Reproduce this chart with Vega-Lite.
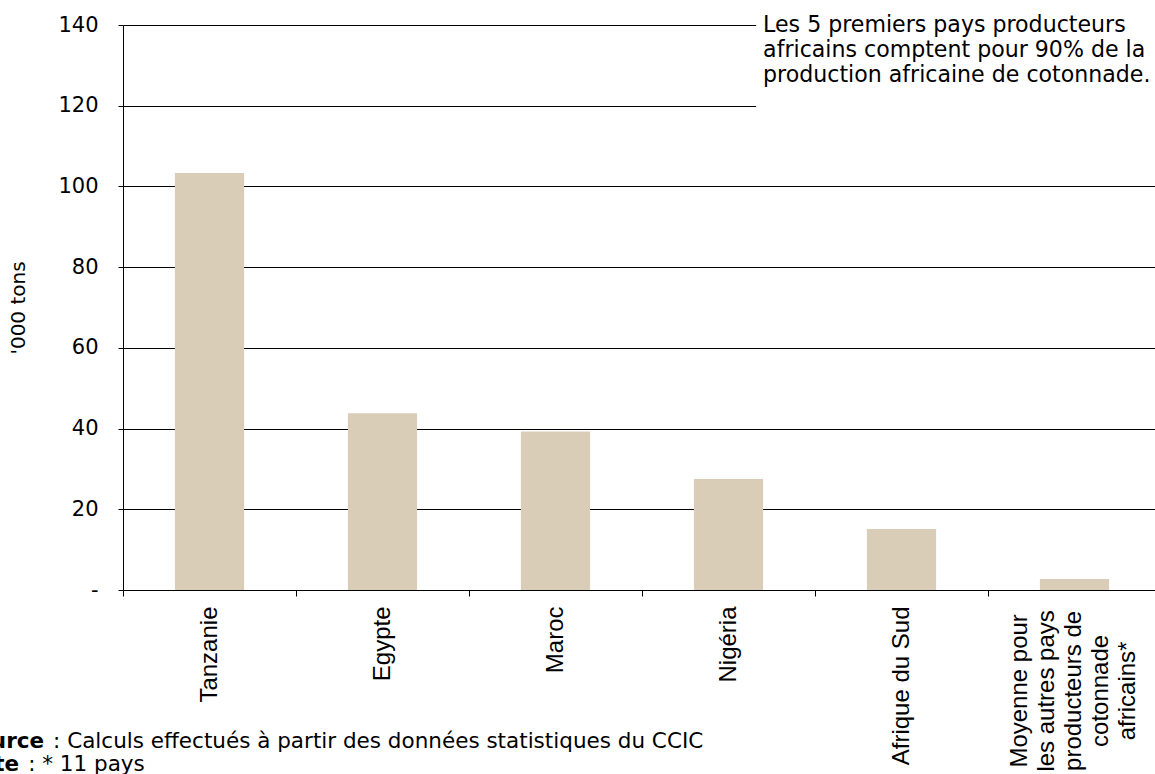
{
  "$schema": "https://vega.github.io/schema/vega-lite/v6.json",
  "width": 1032,
  "height": 565,
  "autosize": {"type": "none"},
  "padding": {"left": 123, "top": 25, "right": 0, "bottom": 184},
  "background": "white",
  "config": {"view": {"stroke": null}, "font": "DejaVu Sans"},
  "layer": [
    {
      "data": {
        "values": [
          {"pays": "Tanzanie", "valeur": 103.3},
          {"pays": "Egypte", "valeur": 43.8},
          {"pays": "Maroc", "valeur": 39.3},
          {"pays": "Nigéria", "valeur": 27.5},
          {"pays": "Afrique du Sud", "valeur": 15.1},
          {"pays": "Moyenne", "valeur": 2.7}
        ]
      },
      "mark": {"type": "bar", "color": "#d9cdb8"},
      "encoding": {
        "x": {
          "field": "pays", "type": "nominal",
          "scale": {"domain": ["Tanzanie", "Egypte", "Maroc", "Nigéria", "Afrique du Sud", "Moyenne"], "range": [0, 1038], "paddingInner": 0.6, "paddingOuter": 0.3},
          "axis": {
            "title": null, "labelAngle": -90, "labelFontSize": 24, "labelFont": "Liberation Sans", "labelColor": "black",
            "tickOffset": -86.5, "labelOffset": 86.5, "tickSize": 6, "tickColor": "black", "domainColor": "black",
            "labelPadding": 10, "grid": false, "labelLimit": 300,
            "labelExpr": "datum.value == 'Moyenne' ? '' : datum.value"
          }
        },
        "y": {
          "field": "valeur", "type": "quantitative",
          "scale": {"domain": [0, 140], "nice": false},
          "axis": {
            "title": "'000 tons", "values": [0, 20, 40, 60, 80, 100, 120, 140],
            "labelExpr": "datum.value == 0 ? '-' : datum.label",
            "labelFontSize": 21, "labelColor": "black", "labelPadding": 20,
            "titleFontSize": 20, "titleFontWeight": "normal", "titleColor": "black", "titlePadding": 29,
            "grid": true, "gridColor": "black", "gridOpacity": 1, "gridWidth": 1,
            "tickColor": "black", "tickSize": 5, "domainColor": "black"
          }
        }
      }
    },
    {
      "data": {"values": [{"de": "Nigéria", "a": "Moyenne", "haut": 143, "bas": 118.5}]},
      "mark": {"type": "rect", "color": "white"},
      "encoding": {
        "x": {"field": "de", "type": "nominal", "bandPosition": 0.9},
        "x2": {"field": "a", "bandPosition": 2.5},
        "y": {"field": "haut", "type": "quantitative"},
        "y2": {"field": "bas"}
      }
    },
    {
      "data": {"values": [{"pays": "Nigéria", "y": 138.25, "texte": "Les 5 premiers pays producteurs\nafricains comptent pour 90% de la\nproduction africaine de cotonnade."}]},
      "mark": {"type": "text", "align": "left", "baseline": "alphabetic", "fontSize": 22.1, "lineHeight": 25, "lineBreak": "\n", "color": "black"},
      "encoding": {
        "x": {"field": "pays", "type": "nominal", "bandPosition": 1.0},
        "y": {"field": "y", "type": "quantitative"},
        "text": {"field": "texte"}
      }
    },
    {
      "data": {"values": [{"pays": "Moyenne", "y": -25.0, "texte": "Moyenne pour\nles autres pays\nproducteurs de\ncotonnade\nafricains*"}]},
      "mark": {"type": "text", "align": "center", "baseline": "middle", "angle": 270, "font": "Liberation Sans", "fontSize": 24, "lineHeight": 27, "lineBreak": "\n", "color": "black"},
      "encoding": {
        "x": {"field": "pays", "type": "nominal", "bandPosition": -0.29},
        "y": {"field": "y", "type": "quantitative"},
        "text": {"field": "texte"}
      }
    },
    {
      "data": {"values": [{"pays": "Tanzanie", "y": -37.7, "gras": "Source", "texte": ": Calculs effectués à partir des données statistiques du CCIC"}]},
      "layer": [
        {
          "mark": {"type": "text", "align": "right", "baseline": "middle", "fontSize": 21.5, "fontWeight": "bold", "color": "black"},
          "encoding": {
            "x": {"field": "pays", "type": "nominal", "bandPosition": -1.89},
            "y": {"field": "y", "type": "quantitative"},
            "text": {"field": "gras"}
          }
        },
        {
          "mark": {"type": "text", "align": "left", "baseline": "middle", "fontSize": 21.5, "color": "black"},
          "encoding": {
            "x": {"field": "pays", "type": "nominal", "bandPosition": -1.76},
            "y": {"field": "y", "type": "quantitative"},
            "text": {"field": "texte"}
          }
        }
      ]
    },
    {
      "data": {"values": [{"pays": "Tanzanie", "y": -43.4, "gras": "Note", "texte": ": * 11 pays"}]},
      "layer": [
        {
          "mark": {"type": "text", "align": "right", "baseline": "middle", "fontSize": 21.5, "fontWeight": "bold", "color": "black"},
          "encoding": {
            "x": {"field": "pays", "type": "nominal", "bandPosition": -2.25},
            "y": {"field": "y", "type": "quantitative"},
            "text": {"field": "gras"}
          }
        },
        {
          "mark": {"type": "text", "align": "left", "baseline": "middle", "fontSize": 21.5, "color": "black"},
          "encoding": {
            "x": {"field": "pays", "type": "nominal", "bandPosition": -2.12},
            "y": {"field": "y", "type": "quantitative"},
            "text": {"field": "texte"}
          }
        }
      ]
    }
  ]
}
